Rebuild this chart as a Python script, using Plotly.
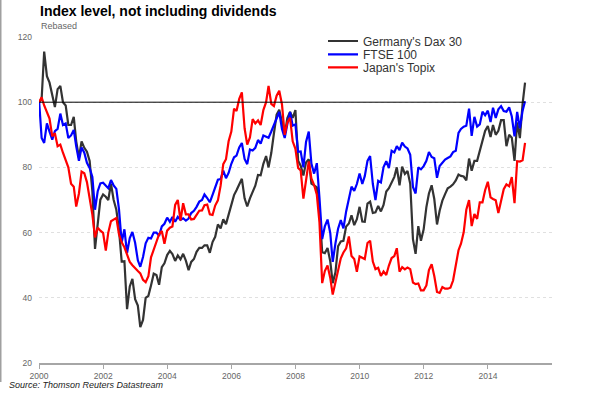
import pandas as pd
import plotly.graph_objects as go

# ---------------- data (rebased, start = 100) ----------------
start_date = "2000-01-03"
start_value = 100
# monthly points, Jan-2000 ... Feb-2015 (month ends)
month_ends = pd.date_range("2000-02-01", periods=182, freq="MS") - pd.Timedelta(days=1)

dax = [
    101.0, 115.5, 108.0, 106.0, 101.7, 98.5, 104.0, 105.0, 100.0, 99.0, 93.0, 93.0,
    95.5, 88.0, 83.0, 88.0, 86.0, 84.8, 82.0, 72.6, 55.0, 63.4, 70.1, 71.7,
    71.0, 70.0, 75.0, 70.1, 67.0, 60.9, 51.1, 51.2, 36.5, 43.5, 45.8, 39.6,
    37.6, 31.0, 33.2, 40.0, 40.6, 43.8, 47.4, 47.0, 44.0, 49.4, 50.6, 53.1,
    54.4, 53.4, 51.3, 53.0, 51.8, 53.5, 51.4, 48.5, 51.0, 51.9, 54.1, 55.3,
    55.3, 56.1, 56.1, 53.8, 57.1, 58.7, 62.5, 61.3, 64.1, 62.6, 65.4, 68.1,
    71.5, 73.0, 74.6, 76.5, 70.5, 68.0, 70.5, 72.7, 74.4, 77.7, 77.6, 81.1,
    83.5, 80.0, 84.4, 90.4, 96.2, 97.7, 93.5, 90.0, 95.1, 97.0, 95.2, 97.6,
    82.0, 80.5, 77.5, 81.5, 82.5, 75.0, 74.5, 73.9, 67.1, 54.0, 53.7, 55.3,
    51.2, 44.5, 47.8, 55.8, 57.3, 57.5, 61.9, 62.8, 65.3, 62.3, 64.1, 67.9,
    63.4, 63.3, 68.9, 69.5, 66.0, 66.2, 68.2, 66.5, 68.5, 72.6, 73.6, 75.4,
    77.1, 80.0, 74.5, 80.2, 78.0, 78.9, 75.0, 58.0, 53.5, 62.0, 57.5, 61.0,
    67.8, 72.0, 74.5, 70.3, 62.5, 66.7, 69.8, 71.8, 73.6, 74.1, 74.8, 76.0,
    77.8, 77.4, 77.2, 76.0, 82.7, 79.0, 82.0, 82.0, 85.0, 87.6, 91.2, 92.7,
    89.3, 93.0, 90.0, 91.2, 94.5, 94.5, 86.5, 90.0, 89.1, 82.0, 93.8, 89.0,
    99.5, 106.0,
]

ftse = [
    89.0, 87.5, 93.5, 91.0, 88.5, 91.1, 91.8, 96.5, 93.0, 93.5, 89.0, 89.8,
    91.5, 86.5, 82.0, 86.1, 84.5, 81.4, 79.8, 77.1, 67.0, 72.7, 75.1, 75.3,
    74.5, 73.6, 76.1, 74.5, 73.4, 67.2, 57.0, 61.0, 53.7, 58.3, 60.2, 56.9,
    51.5, 49.5, 52.5, 56.7, 58.4, 58.2, 60.0, 60.0, 59.0, 61.9, 62.7, 64.6,
    63.3, 64.8, 63.3, 64.8, 63.9, 64.4, 63.7, 64.3, 66.0, 66.7, 67.9, 69.5,
    70.0, 71.7, 70.6, 69.3, 71.6, 73.8, 76.2, 76.4, 79.0, 76.7, 78.3, 81.1,
    83.1, 83.6, 86.1, 87.5, 82.6, 81.0, 85.5, 85.2, 86.0, 88.4, 87.3, 89.8,
    89.5, 89.1, 91.0, 93.1, 95.5, 97.0, 91.8, 89.0, 93.3, 97.0, 92.8, 93.2,
    84.8, 84.9, 80.0, 87.8, 91.0, 81.2, 78.1, 81.3, 70.7, 58.0, 61.9, 64.0,
    59.9, 51.0, 56.7, 61.2, 63.8, 61.3, 66.5, 70.8, 74.1, 72.8, 74.9, 78.1,
    74.9, 77.3, 82.0, 83.5, 74.9, 70.0, 75.9, 75.4, 80.1, 81.9, 79.8, 85.1,
    84.6, 86.5, 85.3, 87.6, 86.4, 85.8, 83.9, 74.0, 72.0, 80.0, 79.4, 80.4,
    82.0, 84.7, 83.2, 82.8, 76.8, 80.4, 81.3, 82.4, 82.9, 83.4, 84.7, 85.1,
    90.6, 91.8, 92.5, 92.8, 98.0, 89.7, 95.5, 92.5, 93.2, 97.1, 96.0, 97.4,
    93.9, 98.3, 95.2, 97.8, 98.8, 97.3, 97.1, 98.4, 95.6, 89.5, 97.0, 92.0,
    97.4, 100.3,
]

topix = [
    101.5, 99.0, 97.0, 95.0, 89.5, 90.5, 86.5, 87.0, 84.5, 82.0, 80.0, 75.0,
    74.1, 68.0, 72.0, 78.7, 78.2, 75.5, 70.3, 65.5, 58.5, 61.5, 60.6, 59.9,
    54.5, 60.0, 63.5, 64.0, 64.5, 59.5, 57.0, 55.5, 53.0, 51.0, 50.0, 49.0,
    48.2, 47.5, 45.5, 44.8, 46.6, 52.4, 54.7, 57.0, 59.5, 60.5, 56.6, 60.6,
    61.5, 61.9, 68.5, 70.0, 63.7, 69.0, 65.6, 65.6, 64.0, 64.2, 65.6, 66.7,
    66.8, 68.4, 68.6, 65.6, 65.4, 68.3, 69.9, 74.4, 81.0, 82.5, 88.0, 91.0,
    98.0, 97.3, 101.0, 103.0, 92.0, 87.0, 89.2, 94.8, 93.5, 94.4, 93.0, 97.6,
    100.0, 105.0, 99.5, 98.8, 102.0, 103.5, 99.3, 90.0, 93.8, 95.2, 88.0, 85.7,
    79.8, 79.1, 70.4, 76.6, 81.8, 76.6, 74.6, 71.6, 63.1, 44.5, 48.2, 49.9,
    46.1, 41.0, 44.9, 48.7, 52.1, 53.9, 55.2, 58.8, 52.8, 51.9, 48.0, 52.7,
    52.3, 51.9, 56.8, 57.5, 51.1, 48.8, 49.2, 46.7, 48.1, 47.0, 49.9, 52.2,
    52.8, 55.2, 48.0, 49.4, 48.7, 49.3, 48.8, 44.7, 44.2, 44.4, 42.3, 42.3,
    43.8, 48.5, 50.3, 46.7, 41.8, 41.5, 43.3, 42.8, 42.8, 43.1, 45.3, 49.9,
    54.6, 56.6, 60.1, 67.0, 70.0, 62.0, 65.7, 64.2, 69.3, 69.3, 73.0, 75.6,
    70.8, 70.3, 69.9, 66.0, 69.8, 73.3, 74.8, 74.2, 77.0, 69.0, 81.9, 81.8,
    82.2, 87.5,
]

series_names = ["Germany's Dax 30", "FTSE 100", "Japan's Topix"]
series_colors = ["#333333", "#0000ff", "#ff0000"]
y_ticks = [20, 40, 60, 80, 100, 120]
x_tick_years = ["2000", "2002", "2004", "2006", "2008", "2010", "2012", "2014"]
reference_level = 100

# ---------------- figure ----------------
dates = [pd.Timestamp(start_date)] + list(month_ends)
W, H = 590, 393
ML, MR, MT, MB = 39, 38, 37, 30
PW, PH = W - ML - MR, H - MT - MB


def px_x(p):
    return (p - ML) / PW


def px_y(p):
    return (H - MB - p) / PH


fig = go.Figure()
legend_ids = ["legend", "legend2", "legend3"]
legend_rows = [41, 54.3, 67.3]
for vals, name, col, lid in zip([dax, ftse, topix], series_names, series_colors, legend_ids):
    fig.add_trace(go.Scatter(
        x=dates, y=[start_value] + vals, mode="lines", name=name,
        line=dict(color=col, width=2.2), legend=lid,
    ))

fig.add_trace(go.Scatter(
    x=[dates[0], dates[-1]], y=[reference_level, reference_level], mode="lines",
    line=dict(color="#000000", width=1), showlegend=False, hoverinfo="skip",
))

leg_common = dict(
    xanchor="left", yanchor="middle", bgcolor="rgba(0,0,0,0)", borderwidth=0,
    font=dict(family="Liberation Sans, Arial, sans-serif", size=12, color="#333333"),
    itemwidth=30, tracegroupgap=0,
)
layout_legends = {}
for lid, row in zip(legend_ids, legend_rows):
    layout_legends[lid] = dict(x=px_x(323), y=px_y(row), **leg_common)

fig.update_layout(
    width=W, height=H,
    margin=dict(l=ML, r=MR, t=MT, b=MB, pad=0),
    paper_bgcolor="white", plot_bgcolor="white",
    font=dict(family="Liberation Sans, Arial, sans-serif", size=9, color="#666666"),
    showlegend=True,
    **layout_legends,
)

fig.update_xaxes(
    type="date", range=["2000-01-01", "2016-01-01"],
    tickvals=[f"{y}-01-01" for y in x_tick_years], ticktext=x_tick_years,
    showgrid=False, zeroline=False,
    showline=True, linecolor="#a6a6a6", linewidth=1.5,
    ticks="outside", ticklen=4, tickcolor="#a6a6a6", tickwidth=1,
    tickfont=dict(size=8.5, color="#666666"),
)
fig.update_yaxes(
    range=[20, 120], tickvals=y_ticks,
    showgrid=True, gridcolor="#e0e0e0", griddash="dot", gridwidth=1,
    zeroline=False, showline=False, ticks="",
    tickfont=dict(size=8.5, color="#666666"),
    ticklabelstandoff=6,
)

annotations = [
    dict(text="<b>Index level, not including dividends</b>", x=px_x(38), y=px_y(11),
         xanchor="left", yanchor="middle",
         font=dict(family="Liberation Sans, Arial, sans-serif", size=14, color="#000000")),
    dict(text="Rebased", x=px_x(38.5), y=px_y(25.5), xanchor="left", yanchor="middle",
         font=dict(family="Liberation Sans, Arial, sans-serif", size=9, color="#666666")),
    dict(text="<i>Source: Thomson Reuters Datastream</i>", x=px_x(7), y=px_y(385),
         xanchor="left", yanchor="middle",
         font=dict(family="Liberation Sans, Arial, sans-serif", size=9, color="#222222")),
]
for a in annotations:
    a.update(xref="paper", yref="paper", showarrow=False)
fig.update_layout(annotations=annotations)

fig.add_shape(type="line", xref="paper", yref="paper",
              x0=px_x(0.75), x1=px_x(0.75), y0=px_y(382), y1=px_y(0),
              line=dict(color="#a0a0a0", width=1.5))

fig.write_html(
    "out.html",
    config={"displayModeBar": False},
    post_script="document.body.style.margin='0';document.body.style.padding='0';",
)
